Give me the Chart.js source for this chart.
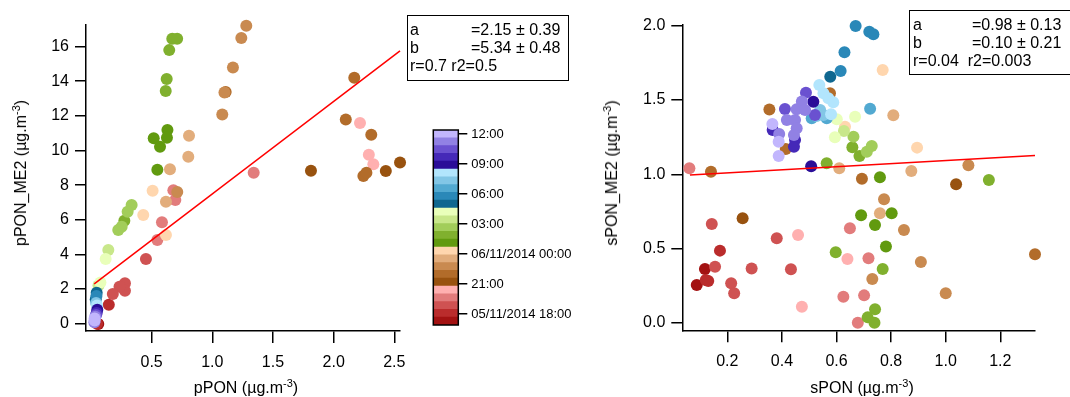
<!DOCTYPE html>
<html>
<head>
<meta charset="utf-8">
<script src="https://cdn.jsdelivr.net/npm/chart.js@4.4.1/dist/chart.umd.min.js"></script>
<style>
  body { margin: 0; background: #fff; }
  #wrap { position: relative; width: 1070px; height: 397px; overflow: hidden;
          font-family: "Liberation Sans", Arial, sans-serif; color: #000; }
  canvas { position: absolute; top: 0; }
  .lbl { position: absolute; font-size: 16px; white-space: nowrap; line-height: 18px; }
  .lbl sup { font-size: 11px; line-height: 0; }
  .rot { transform: translate(-50%, -50%) rotate(-90deg); }
  .hor { transform: translate(-50%, -50%); }
  .box { position: absolute; border: 1.5px solid #000; background: #fff; font-size: 16px;
         line-height: 18px; white-space: pre; box-sizing: border-box; }
  .box span { position: absolute; }
</style>
</head>
<body>
<div id="wrap">
  <canvas id="left" width="420" height="397" style="left:0"></canvas>
  <canvas id="bar" width="180" height="397" style="left:420px"></canvas>
  <canvas id="right" width="470" height="397" style="left:600px"></canvas>

  <div class="lbl rot" style="left:21px;top:173px">pPON_ME2 (µg.m<sup>-3</sup>)</div>
  <div class="lbl hor" style="left:246px;top:388px">pPON (µg.m<sup>-3</sup>)</div>
  <div class="lbl rot" style="left:612px;top:173px">sPON_ME2 (µg.m<sup>-3</sup>)</div>
  <div class="lbl hor" style="left:862px;top:388px">sPON (µg.m<sup>-3</sup>)</div>

  <div class="box" style="left:407px;top:15px;width:162px;height:66px">
    <span style="left:2px;top:5px">a</span><span style="left:63px;top:5px">=2.15 ± 0.39</span>
    <span style="left:2px;top:23px">b</span><span style="left:63px;top:23px">=5.34 ± 0.48</span>
    <span style="left:2px;top:41px">r=0.7 r2=0.5</span>
  </div>
  <div class="box" style="left:909px;top:10px;width:162px;height:65px">
    <span style="left:3px;top:5px">a</span><span style="left:62px;top:5px">=0.98 ± 0.13</span>
    <span style="left:3px;top:23px">b</span><span style="left:62px;top:23px">=0.10 ± 0.21</span>
    <span style="left:3px;top:41px">r=0.04  r2=0.003</span>
  </div>
</div>

<script>
// colour scale: 5 groups of 5 shades, from 05/11 ~17:00 (bottom) to 06/11 ~12:20 (top)
const palette = [
  '#a31212', '#ba2c2c', '#cf5252', '#e27c7c', '#ffb0b0',   // red
  '#98520f', '#b26c2a', '#c98a50', '#e2ad7c', '#ffd6ae',   // brown
  '#619a0f', '#80b02e', '#a2cd5a', '#c8e78a', '#e9ffba',   // green
  '#0f6790', '#2a88b8', '#52a9d1', '#82c6e6', '#b2e5fd',   // blue
  '#2a0d98', '#4529b8', '#6a51d0', '#9181e4', '#c2b6fd'    // purple
];
const cbMin = 16.9, cbMax = 36.4;            // hours since 05/11/2014 00:00
const cbTickVals = [18, 21, 24, 27, 30, 33, 36];
const cbTickLabels = ['05/11/2014 18:00', '21:00', '06/11/2014 00:00', '03:00', '06:00', '09:00', '12:00'];

// left panel: pPON vs pPON_ME2, shade = index into palette
const leftX = [0.67, 0.71, 0.645, 0.624, 0.616, 0.63, 0.626, 0.517, 0.569, 0.547,
  1.28, 1.239, 1.17, 1.10, 1.11, 1.082, 0.808, 0.802, 0.651, 1.341,
  1.813, 2.17, 2.10, 2.217, 2.31, 2.29, 2.327, 2.245, 2.27, 2.43,
  2.547, 0.508, 0.679, 0.695, 0.711, 0.618, 0.431, 0.585, 0.618, 0.547,
  0.453, 0.28, 0.28, 0.235, 0.18, 0.147, 0.335, 0.302, 0.275, 0.253,
  0.225, 0.143, 0.121, 0.078, 0.062, 0.047, 0.045, 0.039, 0.042, 0.05,
  0.052, 0.047, 0.042, 0.036, 0.03, 0.03, 0.028, 0.05, 0.06];
const leftY = [16.45, 16.45, 15.79, 14.12, 13.43, 11.18, 10.73, 10.7, 10.21, 8.89,
  17.2, 16.49, 14.79, 13.35, 13.38, 12.08, 10.85, 9.64, 8.91, 8.71,
  8.83, 14.2, 11.79, 11.58, 10.9, 9.75, 9.2, 8.52, 8.71, 8.81,
  9.31, 7.67, 7.71, 7.14, 7.6, 7.04, 6.27, 5.85, 5.12, 4.83,
  3.73, 2.33, 1.9, 2.13, 1.72, 1.1, 6.85, 6.46, 5.94, 5.6,
  5.41, 4.25, 3.73, 2.38, 2.2, 1.79, 1.6, 1.4, 1.2, 1.05,
  0.8, 0.62, 0.5, 0.4, 0.3, 0.18, 0.08, 0.0, -0.02];
const leftC = [11, 11, 11, 11, 11, 10, 10, 10, 10, 10,
  7, 7, 7, 7, 6, 7, 8, 8, 8, 3,
  5, 6, 6, 4, 6, 4, 4, 6, 6, 5,
  5, 9, 3, 3, 7, 8, 9, 3, 9, 3,
  2, 2, 2, 2, 2, 1, 12, 12, 11, 12,
  12, 13, 14, 14, 13, 15, 16, 15, 18, 19,
  20, 21, 22, 23, 24, 24, 23, 1, 0];
const leftFit = { a: 2.15, b: 5.34, x0: 0.027, x1: 2.547 };

// right panel: sPON vs sPON_ME2
const rightX = [0.061, 0.14, 0.67, 0.72, 0.735, 0.629, 0.615, 0.577, 0.769, 0.537,
  0.576, 0.488, 0.552, 0.57, 0.588, 0.723, 0.808, 0.354, 0.411, 0.365,
  0.366, 0.39, 0.388, 0.388, 0.414, 0.418, 0.448, 0.454, 0.444, 0.448,
  0.444, 0.454, 0.473, 0.485, 0.515, 0.54, 0.527, 0.552, 0.509, 0.564,
  0.521, 0.58, 0.507, 0.564, 0.601, 0.594, 0.668, 0.631, 0.627, 0.662,
  0.658, 0.684, 0.711, 0.729, 0.895, 0.61, 0.693, 0.759, 0.874, 1.083,
  1.038, 1.158, 0.774, 0.69, 0.759, 0.802, 0.741, 0.847, 0.649, 0.781,
  0.597, 0.64, 0.717, 0.769, 0.909, 1.327, 0.731, 1.0, 0.625, 0.701,
  0.741, 0.714, 0.739, 0.678, 0.473, 0.459, 0.381, 0.433, 0.289, 0.256,
  0.143, 0.173, 0.155, 0.118, 0.088, 0.121, 0.13, 0.214, 0.225];
const rightY = [1.041, 1.018, 1.999, 1.96, 1.943, 1.822, 1.696, 1.657, 1.703, 1.602,
  1.546, 1.55, 1.546, 1.512, 1.485, 1.442, 1.398, 1.436, 1.44, 1.339,
  1.299, 1.272, 1.22, 1.124, 1.171, 1.366, 1.366, 1.31, 1.265, 1.232,
  1.186, 1.438, 1.49, 1.433, 1.489, 1.433, 1.393, 1.4, 1.378, 1.378,
  1.4, 1.404, 1.055, 1.075, 1.371, 1.25, 1.388, 1.321, 1.292, 1.254,
  1.182, 1.124, 1.153, 1.191, 1.18, 1.041, 0.971, 0.98, 1.023, 1.061,
  0.933, 0.962, 0.833, 0.725, 0.738, 0.738, 0.66, 0.626, 0.637, 0.514,
  0.476, 0.431, 0.435, 0.363, 0.41, 0.462, 0.296, 0.2, 0.177, 0.186,
  0.092, 0.038, 0.002, 0.002, 0.11, 0.592, 0.57, 0.361, 0.366, 0.705,
  0.666, 0.487, 0.379, 0.363, 0.256, 0.289, 0.283, 0.267, 0.2];
const rightC = [3, 6, 16, 16, 16, 16, 16, 15, 9, 19,
  6, 22, 19, 19, 19, 17, 8, 6, 22, 24,
  21, 23, 24, 24, 6, 23, 23, 23, 23, 21,
  21, 23, 23, 23, 20, 18, 18, 18, 17, 17,
  22, 19, 20, 11, 14, 14, 14, 9, 13, 12,
  11, 11, 12, 12, 9, 8, 6, 10, 8, 7,
  5, 11, 7, 10, 8, 10, 10, 7, 3, 10,
  11, 4, 3, 11, 7, 6, 7, 7, 3, 3,
  11, 11, 11, 3, 4, 4, 2, 2, 2, 5,
  2, 1, 2, 0, 0, 1, 1, 2, 2];
const rightFit = { a: 0.99, b: 0.103, x0: 0.063, x1: 1.327 };

Chart.defaults.font.family = '"Liberation Sans", Arial, sans-serif';
Chart.defaults.color = '#000';

function axis(min, max, ticks, fmt, fit, tickPad, tickLen) {
  return {
    type: 'linear', min, max,
    afterBuildTicks: s => { s.ticks = ticks.map(v => ({ value: v })); },
    afterFit: fit,
    border: { display: true, color: '#000', width: 1.5 },
    grid: { display: true, drawOnChartArea: false, drawTicks: true, tickLength: tickLen, color: '#000', lineWidth: 1.5 },
    ticks: { color: '#000', font: { size: 16 }, padding: tickPad, callback: v => fmt(v) }
  };
}

function pointsSorted(xs, ys, cs) {
  // later times drawn on top, like the original
  const idx = xs.map((_, i) => i).sort((p, q) => cs[p] - cs[q]);
  return {
    data: idx.map(i => ({ x: xs[i], y: ys[i] })),
    colors: idx.map(i => palette[cs[i]])
  };
}

function scatterPanel(id, xs, ys, cs, fit, scales, padding) {
  const pts = pointsSorted(xs, ys, cs);
  return new Chart(document.getElementById(id), {
    type: 'scatter',
    data: {
      datasets: [
        { data: [{ x: fit.x0, y: fit.a + fit.b * fit.x0 }, { x: fit.x1, y: fit.a + fit.b * fit.x1 }],
          showLine: true, borderColor: '#ff0000', borderWidth: 1.5, pointRadius: 0, clip: false },
        { data: pts.data, pointBackgroundColor: pts.colors, pointBorderWidth: 0,
          pointRadius: 6, clip: false }
      ]
    },
    options: {
      responsive: false, animation: false, events: [],
      layout: { padding },
      plugins: { legend: { display: false }, tooltip: { enabled: false } },
      scales
    }
  });
}

scatterPanel('left', leftX, leftY, leftC, leftFit, {
  x: axis(-0.041, 2.541, [0.5, 1, 1.5, 2, 2.5], v => v.toFixed(1), s => { s.height = 66; }, 10, 12),
  y: axis(-0.42, 17.24, [0, 2, 4, 6, 8, 10, 12, 14, 16], v => String(v), s => { s.width = 86; }, 6, 11)
}, { left: 0, right: 20.7, top: 25, bottom: 0 });

scatterPanel('right', rightX, rightY, rightC, rightFit, {
  x: axis(0.035, 1.327, [0.2, 0.4, 0.6, 0.8, 1.0, 1.2], v => v.toFixed(1), s => { s.height = 66.7; }, 10, 12),
  y: axis(-0.049, 2.005, [0, 0.5, 1, 1.5, 2], v => v.toFixed(1), s => { s.width = 82.3; }, 6, 11)
}, { left: 0, right: 35, top: 25, bottom: 0 });

// colour bar
const stripe = (cbMax - cbMin) / palette.length;
const frame = {
  id: 'frame',
  afterDraw(c) {
    const a = c.chartArea, g = c.ctx;
    g.save();
    g.strokeStyle = '#000';
    g.lineWidth = 1.5;
    g.strokeRect(a.left, a.top, a.right - a.left, a.bottom - a.top);
    g.restore();
  }
};
new Chart(document.getElementById('bar'), {
  type: 'bar',
  data: {
    labels: ['t'],
    datasets: palette.map((col, i) => ({
      data: [[cbMin + i * stripe, cbMin + (i + 1) * stripe]],
      backgroundColor: col, borderWidth: 0, grouped: false,
      barPercentage: 1, categoryPercentage: 1
    }))
  },
  options: {
    responsive: false, animation: false, events: [],
    layout: { padding: { left: 13.3, right: 0, top: 130, bottom: 72 } },
    plugins: { legend: { display: false }, tooltip: { enabled: false } },
    scales: {
      x: { display: false },
      y: {
        type: 'linear', position: 'right', min: cbMin, max: cbMax,
        afterBuildTicks: s => { s.ticks = cbTickVals.map(v => ({ value: v })); },
        afterFit: s => { s.width = 141.7; },
        border: { display: false },
        grid: { display: true, drawOnChartArea: false, drawTicks: true, tickLength: 9, color: '#000', lineWidth: 1.5 },
        ticks: { color: '#000', font: { size: 13 }, padding: 4,
                 callback: v => cbTickLabels[cbTickVals.indexOf(v)] }
      }
    }
  },
  plugins: [frame]
});
</script>
</body>
</html>
